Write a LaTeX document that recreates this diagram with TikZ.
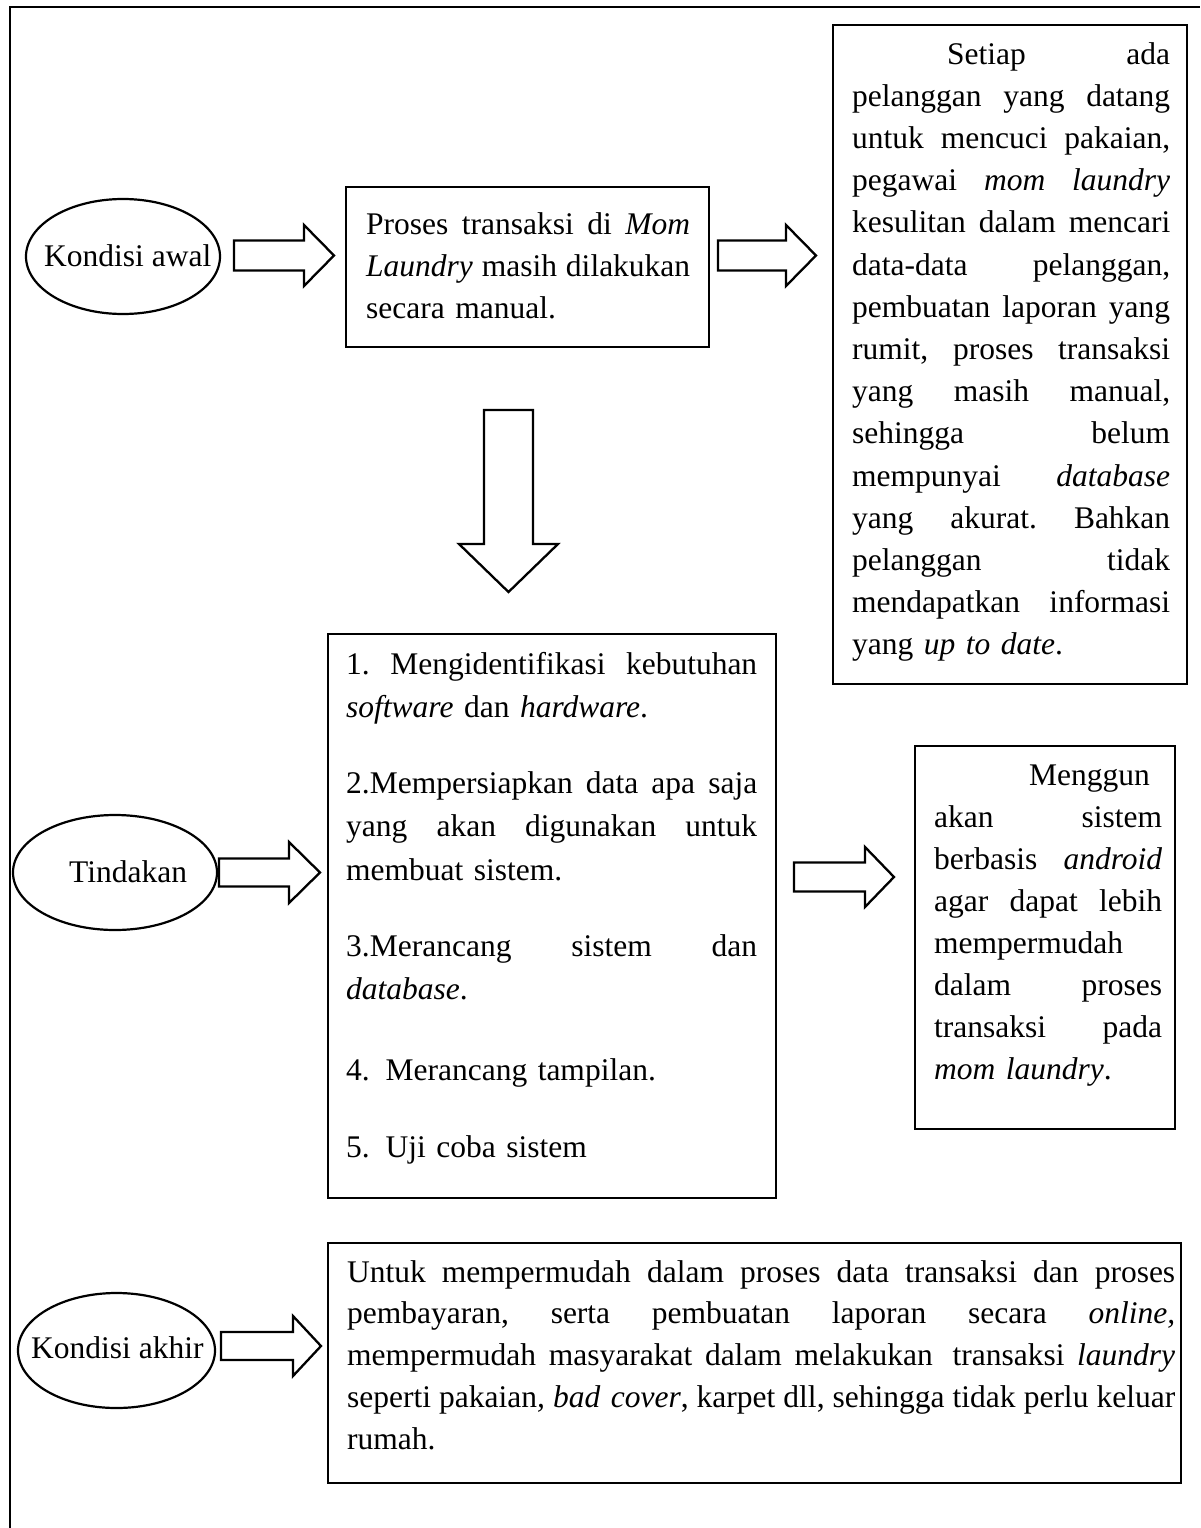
\documentclass[tikz,border=0pt]{standalone}
\usepackage{fontspec}
\setmainfont{Liberation Serif}
\usetikzlibrary{shapes.geometric}
% one justified line filling the current text width (gaps are \hfill)
\newcommand\jl[1]{\leavevmode\hbox to\linewidth{#1}}
% horizontal block arrow: tail x, tip x, head base x, centre y, half shaft, half head
\newcommand\rarrow[6]{\draw[barrow] (#1,#4-#5) -- (#3,#4-#5) -- (#3,#4-#6) -- (#2,#4) -- (#3,#4+#6) -- (#3,#4+#5) -- (#1,#4+#5) -- cycle;}
\tikzset{
  frame/.style={line width=2.7pt, line join=miter},
  box/.style={draw, line width=1.6pt, inner sep=0pt, anchor=north west},
  oval/.style={draw, ellipse, line width=2.2pt, inner sep=0pt},
  txt/.style={inner sep=0pt, anchor=base west, align=left},
  barrow/.style={draw, line width=2.3pt, fill=white, line join=miter},
}
\begin{document}
\begin{tikzpicture}[x=1pt, y=-1pt]
\useasboundingbox (0,0) rectangle (1200,1528);
% outer frame (only top and left edges fall inside the page)
\draw[frame] (10,1528) -- (10,7) -- (1200,7);

% --- row 1: initial condition
\node[oval, minimum width=194pt, minimum height=115pt] (e1) at (123,256.5) {};
\node[txt, font=\fontsize{31.5}{42}\selectfont] (e1t) at (44,266) {Kondisi awal};
\rarrow{234}{334}{304}{255.5}{15}{30.5}

\node[box, minimum width=363pt, minimum height=160pt] (b1) at (345,186) {};
\node[txt, text width=324pt, font=\fontsize{31.5}{42}\selectfont] (b1t) at (366,234) {%
\jl{Proses\hfill transaksi\hfill di\hfill\textit{Mom}}\\
\jl{\textit{Laundry}\hfill masih\hfill dilakukan}\\
secara manual.};
\rarrow{718}{816}{786}{255.5}{15}{30.5}

\node[box, minimum width=354pt, minimum height=659pt] (b2) at (832,24) {};
\node[txt, text width=318pt, font=\fontsize{31.5}{42.2}\selectfont] (b2t) at (852,64) {%
\hspace*{95pt}\hbox to\dimexpr\linewidth-95pt\relax{Setiap\hfill ada}\\
\jl{pelanggan\hfill yang\hfill datang}\\
\jl{untuk\hfill mencuci\hfill pakaian,}\\
\jl{pegawai\hfill\textit{mom}\hfill\textit{laundry}}\\
\jl{kesulitan\hfill dalam\hfill mencari}\\
\jl{data-data\hfill pelanggan,}\\
\jl{pembuatan\hfill laporan\hfill yang}\\
\jl{rumit,\hfill proses\hfill transaksi}\\
\jl{yang\hfill masih\hfill manual,}\\
\jl{sehingga\hfill belum}\\
\jl{mempunyai\hfill\textit{database}}\\
\jl{yang\hfill akurat.\hfill Bahkan}\\
\jl{pelanggan\hfill tidak}\\
\jl{mendapatkan\hfill informasi}\\
yang \textit{up to date}.};

% down arrow from the problem to the actions
\draw[barrow] (484,410) -- (533,410) -- (533,544) -- (558,544) -- (508.5,592) -- (459,544) -- (484,544) -- cycle;

% --- row 2: actions
\node[oval, minimum width=204pt, minimum height=115pt] (e2) at (115,872.5) {};
\node[txt, font=\fontsize{31.5}{42}\selectfont] (e2t) at (69,882) {Tindakan};
\rarrow{219}{320}{289}{872.5}{14}{30.5}

\node[box, minimum width=448pt, minimum height=564pt] (b3) at (327,633) {};
\node[txt, text width=411pt, font=\fontsize{31.5}{43.5}\selectfont] (b3t) at (346,674) {%
\jl{1.\hfill Mengidentifikasi\hfill kebutuhan}\\
\textit{software} dan \textit{hardware}.\\[32pt]
\jl{2.Mempersiapkan\hfill data\hfill apa\hfill saja}\\
\jl{yang\hfill akan\hfill digunakan\hfill untuk}\\
membuat sistem.\\[32.5pt]
\jl{3.Merancang\hfill sistem\hfill dan}\\
\textit{database}.\\[37pt]
4. Merancang tampilan.\\[33.5pt]
5. Uji coba sistem};
\rarrow{794}{894}{865}{877}{14.5}{30}

\node[box, minimum width=260pt, minimum height=383pt] (b4) at (914,745) {};
\node[txt, text width=228pt, font=\fontsize{31.5}{42.1}\selectfont] (b4t) at (934,785) {%
\hspace*{95pt}Menggun\\
\jl{akan\hfill sistem}\\
\jl{berbasis\hfill\textit{android}}\\
\jl{agar\hfill dapat\hfill lebih}\\
mempermudah\\
\jl{dalam\hfill proses}\\
\jl{transaksi\hfill pada}\\
\textit{mom laundry}.};

% --- row 3: final condition
\node[oval, minimum width=197pt, minimum height=115pt] (e3) at (116.5,1350.5) {};
\node[txt, font=\fontsize{31.5}{42}\selectfont] (e3t) at (31,1358) {Kondisi akhir};
\rarrow{221}{321}{293}{1346}{14}{30}

\node[box, minimum width=853pt, minimum height=240pt] (b5) at (327,1242) {};
\node[txt, text width=828pt, font=\fontsize{31.5}{41.75}\selectfont] (b5t) at (347,1282) {%
\jl{Untuk\hfill mempermudah\hfill dalam\hfill proses\hfill data\hfill transaksi\hfill dan\hfill proses}\\
\jl{pembayaran,\hfill serta\hfill pembuatan\hfill laporan\hfill secara\hfill\textit{online,}}\\
\jl{mempermudah\hfill masyarakat\hfill dalam\hfill melakukan\hfill\hspace{7pt}transaksi\hfill\textit{laundry}}\\
\jl{seperti\hfill pakaian\textit{,}\hfill\textit{bad cover},\hfill karpet\hfill dll,\hfill sehingga\hfill tidak\hfill perlu\hfill keluar}\\
rumah.};
\end{tikzpicture}
\end{document}
